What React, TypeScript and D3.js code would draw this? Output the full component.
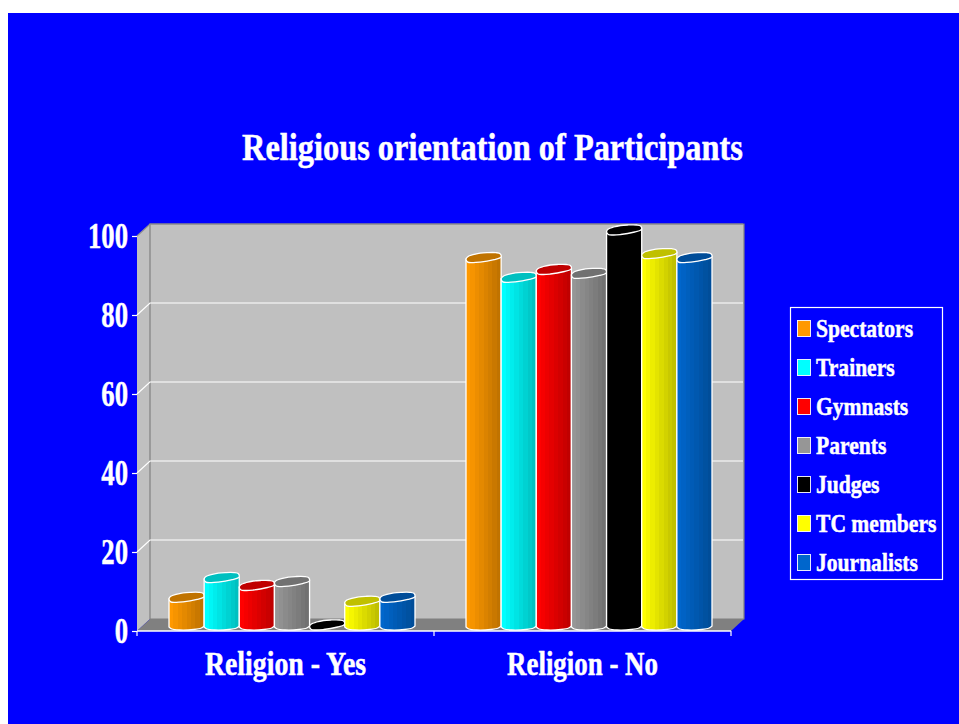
import { useEffect, useRef } from 'react';
import * as d3 from 'd3';

const categories = ['Religion - Yes', 'Religion - No'];
const seriesNames = ['Spectators', 'Trainers', 'Gymnasts', 'Parents', 'Judges', 'TC members', 'Journalists'];
const seriesColors = ['#ff9900', '#00ffff', '#ff0000', '#969696', '#000000', '#ffff00', '#0066cc'];
const religionYes = [7, 12, 10, 11, 0, 6, 7];
const religionNo = [93, 88, 90, 89, 100, 94, 93];
const yTicks = [0, 20, 40, 60, 80, 100];

// wobbly lid of a cylinder: [share of bar width, px from centre]
const lidShape: [number, number][] = [
  [0, 1.5], [0.05, -1], [0.2, -3], [0.4, -4.5], [0.6, -5], [0.85, -5], [0.97, -4],
  [1, -1], [0.95, 0.5], [0.8, 2], [0.6, 3.5], [0.4, 4.5], [0.2, 5], [0.05, 4.5],
];
const baseShape: [number, number][] = [
  [0, 2], [0.08, 4], [0.3, 5], [0.7, 4.5], [0.92, 3], [1, 1],
];

const SERIF = '"Liberation Serif", serif';

export default function App() {
  const svgRef = useRef<SVGSVGElement>(null);

  useEffect(() => {
    if (!svgRef.current) return;
    const svg = d3.select(svgRef.current);
    svg.selectAll('*').remove();

    const left = 137;
    const right = 731;
    const floor = 631;
    const top = 236;
    const dx = 13;
    const dy = 12;

    const x = d3.scaleBand<string>().domain(categories).range([left, right]);
    const inner = d3.scaleBand<string>().domain(seriesNames).range([25.5, 271.5]);
    const y = d3.scaleLinear().domain([0, 100]).range([floor, top]);

    // squeeze text the way the original narrow font looks
    const condense = (sel: d3.Selection<any, any, any, any>, k: (i: number) => number) => {
      sel.each(function (_d, i) {
        const node = this as SVGTextElement;
        node.setAttribute('textLength', String(node.getComputedTextLength() * k(i)));
        node.setAttribute('lengthAdjust', 'spacingAndGlyphs');
        node.setAttribute('stroke', '#fff');
        node.setAttribute('stroke-width', '0.5');
      });
    };

    svg.append('rect').attr('x', 8).attr('y', 13).attr('width', 951).attr('height', 711).attr('fill', '#0000ff');

    const title = svg.append('text')
      .attr('x', 492.5).attr('y', 160)
      .attr('text-anchor', 'middle')
      .attr('font-family', SERIF).attr('font-weight', 'bold').attr('font-size', 38)
      .attr('fill', '#fff')
      .text('Religious orientation of Participants');
    condense(title, () => 0.852);

    // walls and floor
    const poly = (pts: [number, number][]) => 'M' + pts.join('L') + 'Z';
    svg.append('path')
      .attr('d', poly([[left, y(100)], [left + dx, y(100) - dy], [left + dx, floor - dy], [left, floor]]))
      .attr('fill', '#c0c0c0');
    svg.append('path')
      .attr('d', poly([[left + dx, y(100) - dy], [right + dx, y(100) - dy], [right + dx, floor - dy], [left + dx, floor - dy]]))
      .attr('fill', '#c0c0c0').attr('stroke', '#808080').attr('stroke-width', 1.2);
    svg.append('path')
      .attr('d', poly([[left, floor], [left + dx, floor - dy], [right + dx, floor - dy], [right, floor]]))
      .attr('fill', '#808080');

    // gridlines on the back and side wall
    yTicks.slice(1).forEach(t => {
      svg.append('path')
        .attr('d', `M${left},${y(t)}L${left + dx},${y(t) - dy}L${right + dx - 1},${y(t) - dy}`)
        .attr('fill', 'none')
        .attr('stroke', t === 100 ? '#909090' : '#fff')
        .attr('stroke-width', 1.2);
    });

    // stepped gradients for cylinder bodies
    const defs = svg.append('defs');
    const steps = 8;
    seriesColors.forEach((c, i) => {
      const dark = d3.rgb(c).darker(0.8).formatHex();
      const grad = defs.append('linearGradient').attr('id', `body-${i}`);
      d3.range(steps).forEach(s => {
        const col = d3.interpolateRgb(c, dark)(s / (steps - 1));
        grad.append('stop').attr('offset', s / steps).attr('stop-color', col);
        grad.append('stop').attr('offset', (s + 1) / steps).attr('stop-color', col);
      });
    });

    const line = d3.line().curve(d3.curveCatmullRom.alpha(0.5));
    const closed = d3.line().curve(d3.curveCatmullRomClosed.alpha(0.5));

    const bars = svg.append('g');
    [religionYes, religionNo].forEach((values, ci) => {
      values.forEach((v, si) => {
        const name = seriesNames[si];
        const x0 = x(categories[ci])! + dx / 2 + inner(name)!;
        const w = inner.bandwidth();
        const cy = y(v) - dy / 2;
        const base = y(0) - dy / 2;
        const lid = lidShape.map(([u, o]) => [x0 + u * w, cy + o] as [number, number]);
        const lidColor = d3.rgb(seriesColors[si]).darker(0.8).formatHex();

        if (v > 0) {
          const bottom = baseShape.map(([u, o]) => [x0 + u * w, base + o] as [number, number]);
          const d = `M${x0},${cy + 1.5}L${x0},${base + 2}` +
            line(bottom)!.replace(/^M[^CL]*/, '') +
            `L${x0 + w},${cy - 1}Z`;
          bars.append('path')
            .attr('d', d)
            .attr('fill', `url(#body-${si})`)
            .attr('stroke', '#fff').attr('stroke-width', 1.3);
        }
        bars.append('path')
          .attr('d', closed(lid))
          .attr('fill', lidColor)
          .attr('stroke', '#fff').attr('stroke-width', 1.3);
      });
    });

    // axes
    const yAxis = svg.append('g')
      .attr('transform', `translate(${left},0)`)
      .call(d3.axisLeft(y).tickValues(yTicks).tickSize(5).tickPadding(4));
    yAxis.select('.domain').remove();
    yAxis.selectAll('line').attr('stroke', '#fff').attr('stroke-width', 1.2);
    const yLabels = yAxis.selectAll<SVGTextElement, number>('text')
      .attr('font-family', SERIF).attr('font-weight', 'bold').attr('font-size', 36)
      .attr('fill', '#fff');
    condense(yLabels, () => 0.74);

    svg.append('line')
      .attr('x1', left).attr('x2', right).attr('y1', floor).attr('y2', floor)
      .attr('stroke', '#fff').attr('stroke-width', 1.4);
    [...categories.map(c => x(c)!), right].forEach(px => {
      svg.append('line')
        .attr('x1', px).attr('x2', px).attr('y1', floor).attr('y2', floor + 5)
        .attr('stroke', '#fff').attr('stroke-width', 1.2);
    });

    const xAxis = svg.append('g')
      .attr('transform', `translate(0,${floor})`)
      .call(d3.axisBottom(x).tickSize(0).tickPadding(21));
    xAxis.select('.domain').remove();
    const xLabels = xAxis.selectAll<SVGTextElement, string>('text')
      .attr('font-family', SERIF).attr('font-weight', 'bold').attr('font-size', 33)
      .attr('fill', '#fff');
    condense(xLabels, i => (i === 0 ? 0.843 : 0.815));

    // legend
    const legend = svg.append('g');
    legend.append('rect')
      .attr('x', 790.5).attr('y', 307.5).attr('width', 152).attr('height', 272)
      .attr('fill', 'none').attr('stroke', '#fff').attr('stroke-width', 1.2);
    const rowY = d3.scalePoint<string>().domain(seriesNames).range([329, 563]);
    seriesNames.forEach((name, i) => {
      const cy = rowY(name)!;
      legend.append('rect')
        .attr('x', 797.5).attr('y', cy - 8.5).attr('width', 13).attr('height', 16)
        .attr('fill', seriesColors[i]).attr('stroke', '#fff').attr('stroke-width', 0.9);
      legend.append('text')
        .attr('transform', `translate(816,${cy + 8}) scale(0.83,1)`)
        .attr('font-family', SERIF).attr('font-weight', 'bold').attr('font-size', 26)
        .attr('fill', '#fff').attr('stroke', '#fff').attr('stroke-width', 0.5)
        .text(name);
    });
  }, []);

  return (
    <svg
      ref={svgRef}
      width={959}
      height={724}
      style={{ position: 'absolute', left: 0, top: 0, background: '#fff' }}
    />
  );
}
